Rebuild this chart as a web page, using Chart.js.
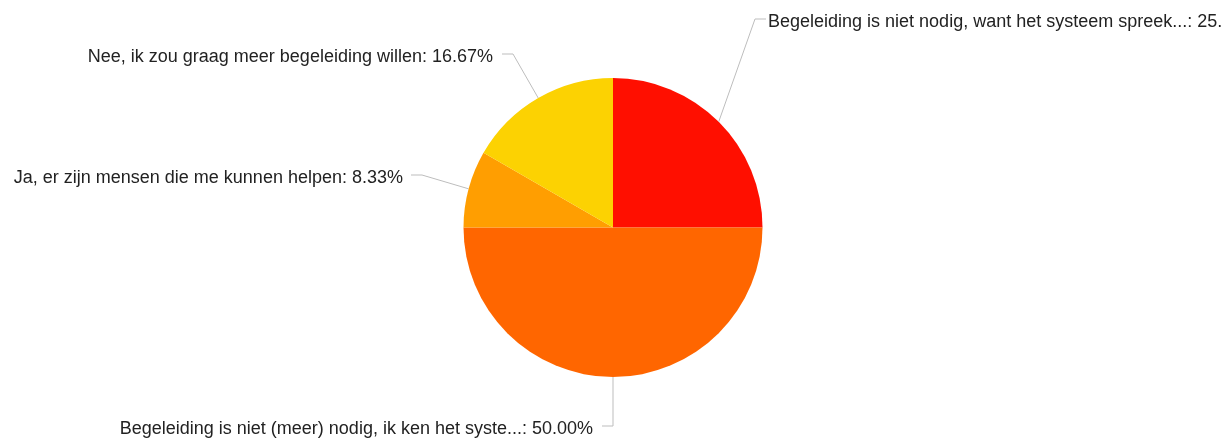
<!DOCTYPE html>
<html>
<head>
<meta charset="utf-8">
<script src="https://cdn.jsdelivr.net/npm/chart.js@4/dist/chart.umd.min.js"></script>
<style>
  html, body { margin: 0; padding: 0; background: #ffffff; overflow: hidden; }
  #wrap { width: 1226px; height: 438px; }
</style>
</head>
<body>
<div id="wrap"><canvas id="c" width="1226" height="438"></canvas></div>
<script>
const categories = [
  "Begeleiding is niet nodig, want het systeem spreek...",
  "Begeleiding is niet (meer) nodig, ik ken het syste...",
  "Ja, er zijn mensen die me kunnen helpen",
  "Nee, ik zou graag meer begeleiding willen"
];
const percentages = [25.00, 50.00, 8.33, 16.67];
const sliceColors = ["#FF0F00", "#FF6600", "#FF9E01", "#FCD202"];

// label elbow offsets relative to pie centre, and side of text
const labelLayout = [
  { dx: 142, dy: -208.5, side: "right", gap: 2 },
  { dx: 0, dy: 198.5, side: "left", gap: 9 },
  { dx: -191, dy: -52.5, side: "left", gap: 8 },
  { dx: -100, dy: -173.5, side: "left", gap: 9 }
];

const labelPlugin = {
  id: "pieLabels",
  afterDatasetsDraw(chart) {
    const ctx = chart.ctx;
    const meta = chart.getDatasetMeta(0);
    ctx.save();
    ctx.font = "18px 'Liberation Sans', Arial, sans-serif";
    ctx.textBaseline = "middle";
    meta.data.forEach((arc, i) => {
      const p = arc.getProps(["x", "y", "startAngle", "endAngle", "outerRadius"], true);
      const mid = (p.startAngle + p.endAngle) / 2;
      const sx = p.x + Math.cos(mid) * p.outerRadius;
      const sy = p.y + Math.sin(mid) * p.outerRadius;
      const L = labelLayout[i];
      const ex = p.x + L.dx;
      const ey = p.y + L.dy;
      const dir = L.side === "right" ? 1 : -1;
      const hx = ex + dir * 11;
      ctx.strokeStyle = "#bdbdbd";
      ctx.lineWidth = 1;
      ctx.beginPath();
      ctx.moveTo(sx, sy);
      ctx.lineTo(ex, ey);
      ctx.lineTo(hx, ey);
      ctx.stroke();
      const text = categories[i] + ": " + percentages[i].toFixed(2) + "%";
      ctx.save();
      ctx.beginPath();
      ctx.rect(0, 0, 1221, chart.height);
      ctx.clip();
      ctx.fillStyle = "#222222";
      ctx.textAlign = L.side === "right" ? "left" : "right";
      ctx.fillText(text, hx + dir * L.gap, ey + 3.5);
      ctx.restore();
    });
    ctx.restore();
  }
};

new Chart(document.getElementById("c"), {
  type: "pie",
  data: {
    labels: categories,
    datasets: [{
      data: percentages,
      backgroundColor: sliceColors,
      borderWidth: 0
    }]
  },
  options: {
    responsive: false,
    animation: false,
    layout: { padding: { top: 78, bottom: 61, left: 0, right: 0 } },
    plugins: {
      legend: { display: false },
      tooltip: { enabled: false },
      title: { display: false }
    }
  },
  plugins: [labelPlugin]
});
</script>
</body>
</html>
